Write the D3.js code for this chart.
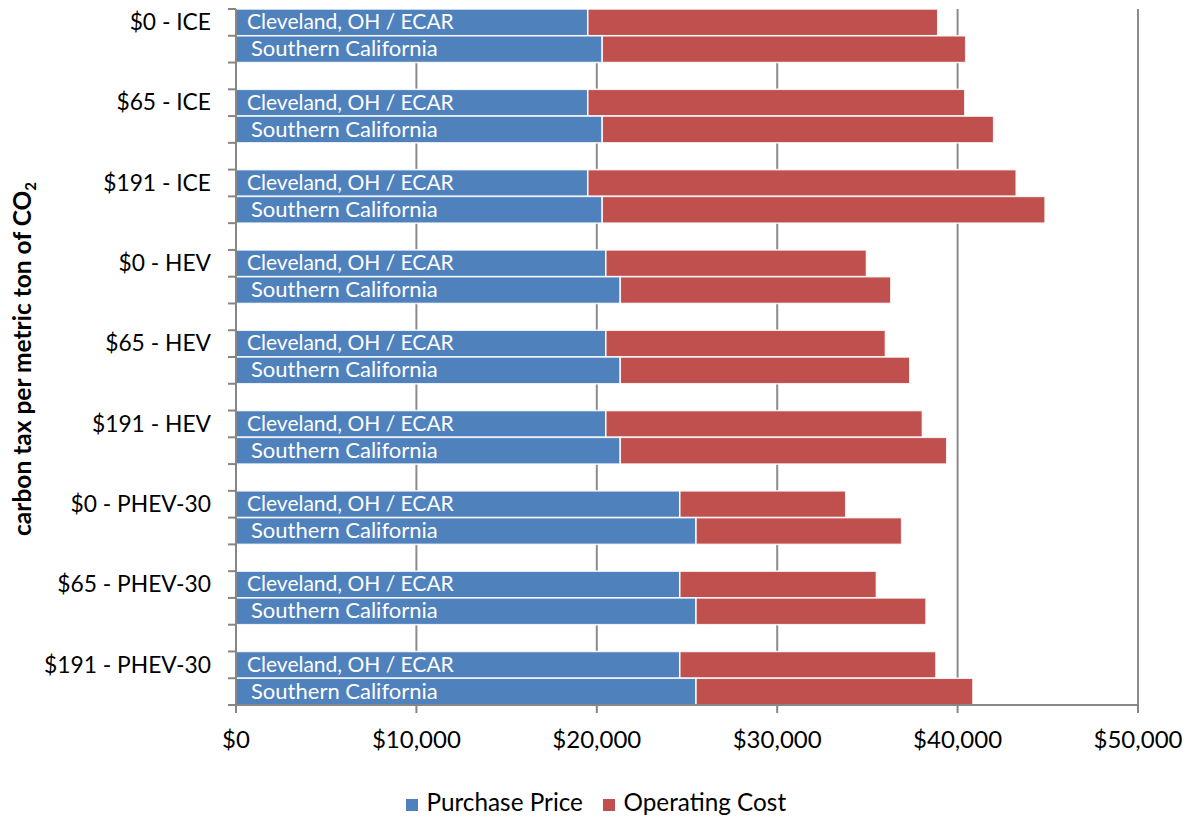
<!DOCTYPE html>
<html><head><meta charset="utf-8">
<script src="https://cdn.jsdelivr.net/npm/d3@7"></script>
<style>body{margin:0;background:#fff}svg{display:block}text{font-family:Lato,"Open Sans",sans-serif}</style>
</head><body>
<svg id="c" width="1190" height="818"></svg>
<script>
const groups = ["$0 - ICE", "$65 - ICE", "$191 - ICE", "$0 - HEV", "$65 - HEV", "$191 - HEV", "$0 - PHEV-30", "$65 - PHEV-30", "$191 - PHEV-30"];
const regions = ["Cleveland, OH / ECAR", "Southern California"];
const purchaseCleveland = [19500, 19500, 19500, 20500, 20500, 20500, 24600, 24600, 24600];
const purchaseSoCal = [20300, 20300, 20300, 21300, 21300, 21300, 25500, 25500, 25500];
const operatingCleveland = [19400, 20900, 23750, 14450, 15500, 17550, 9200, 10900, 14200];
const operatingSoCal = [20150, 21700, 24550, 15000, 16050, 18100, 11400, 12750, 15350];
const seriesNames = ["Purchase Price", "Operating Cost"];
const xTicks = [0, 10000, 20000, 30000, 40000, 50000];
const yTitle = "carbon tax per metric ton of CO";

const colors = ["#4F81BD", "#C0504D"];
const svg = d3.select("#c");
const L = 236, R = 1138, T = 9, B = 705;

const rows = [];
groups.forEach((g, i) => {
  rows.push({key: g + "|0", group: g, region: regions[0], p: purchaseCleveland[i], o: operatingCleveland[i], first: true});
  rows.push({key: g + "|1", group: g, region: regions[1], p: purchaseSoCal[i], o: operatingSoCal[i], first: false});
  if (i < groups.length - 1) rows.push({key: g + "|blank", blank: true});
});

const x = d3.scaleLinear().domain([0, 50000]).range([L, R]);
const y = d3.scaleBand().domain(rows.map(r => r.key)).range([T, B]).padding(0);
const bw = y.bandwidth();

svg.append("g").selectAll("line").data(xTicks.filter(t => t > 0)).join("line")
  .attr("x1", d => x(d)).attr("x2", d => x(d)).attr("y1", T).attr("y2", B)
  .attr("stroke", "#8c8c8c").attr("stroke-width", 2);

const dataRows = rows.filter(r => !r.blank);
const bars = svg.append("g");
dataRows.forEach(r => {
  const segs = [[0, r.p], [r.p, r.p + r.o]];
  segs.forEach((s, k) => {
    bars.append("rect")
      .attr("x", x(s[0])).attr("y", y(r.key))
      .attr("width", x(s[1]) - x(s[0])).attr("height", bw)
      .attr("fill", colors[k])
      .attr("stroke", "#ffffff").attr("stroke-opacity", 0.85).attr("stroke-width", 1.6);
  });
});
svg.append("g").selectAll("text").data(dataRows).join("text")
  .attr("x", d => d.first ? 247 : 251)
  .attr("y", d => y(d.key) + bw / 2 + 1.5)
  .attr("dominant-baseline", "middle")
  .attr("fill", "#fff").attr("font-size", d => d.first ? 21 : 22)
  .text(d => d.region);

const ax = svg.append("g");
ax.append("line").attr("x1", L).attr("x2", L).attr("y1", T).attr("y2", B + 1).attr("stroke", "#868686").attr("stroke-width", 2);
const bounds = rows.map(r => y(r.key)).concat([B]);
ax.selectAll("line.yt").data(bounds).join("line").attr("class", "yt")
  .attr("x1", L - 8).attr("x2", L).attr("y1", d => d).attr("y2", d => d)
  .attr("stroke", "#868686").attr("stroke-width", 2);
ax.append("line").attr("x1", L - 8).attr("x2", R + 1).attr("y1", B).attr("y2", B).attr("stroke", "#868686").attr("stroke-width", 2);
ax.selectAll("line.xt").data(xTicks).join("line").attr("class", "xt")
  .attr("x1", d => x(d)).attr("x2", d => x(d)).attr("y1", B).attr("y2", B + 8)
  .attr("stroke", "#868686").attr("stroke-width", 2);
ax.selectAll("text.xl").data(xTicks).join("text").attr("class", "xl")
  .attr("x", d => x(d)).attr("y", 748).attr("text-anchor", "middle")
  .attr("font-size", 24).attr("fill", "#000")
  .text(d => "$" + d3.format(",")(d));

svg.append("g").selectAll("text").data(dataRows.filter(r => r.first)).join("text")
  .attr("x", 211).attr("y", d => y(d.key) + bw / 2 + 2)
  .attr("text-anchor", "end").attr("dominant-baseline", "middle")
  .attr("font-size", 22.8).attr("fill", "#000")
  .text(d => d.group);

const yt = svg.append("text").attr("transform", "translate(31,359) rotate(-90)")
  .attr("text-anchor", "middle").attr("font-size", 24.5).attr("font-weight", "bold").attr("fill", "#000");
yt.append("tspan").text(yTitle);
yt.append("tspan").attr("font-size", 15).attr("dy", 5).text("2");

const leg = svg.append("g");
const legX = [406, 603];
seriesNames.forEach((n, i) => {
  leg.append("rect").attr("x", legX[i]).attr("y", 799).attr("width", 12).attr("height", 12).attr("fill", colors[i]);
  leg.append("text").attr("x", legX[i] + 20.5).attr("y", 811)
    .attr("font-size", 24.3).attr("fill", "#000").text(n);
});
</script>
</body></html>
